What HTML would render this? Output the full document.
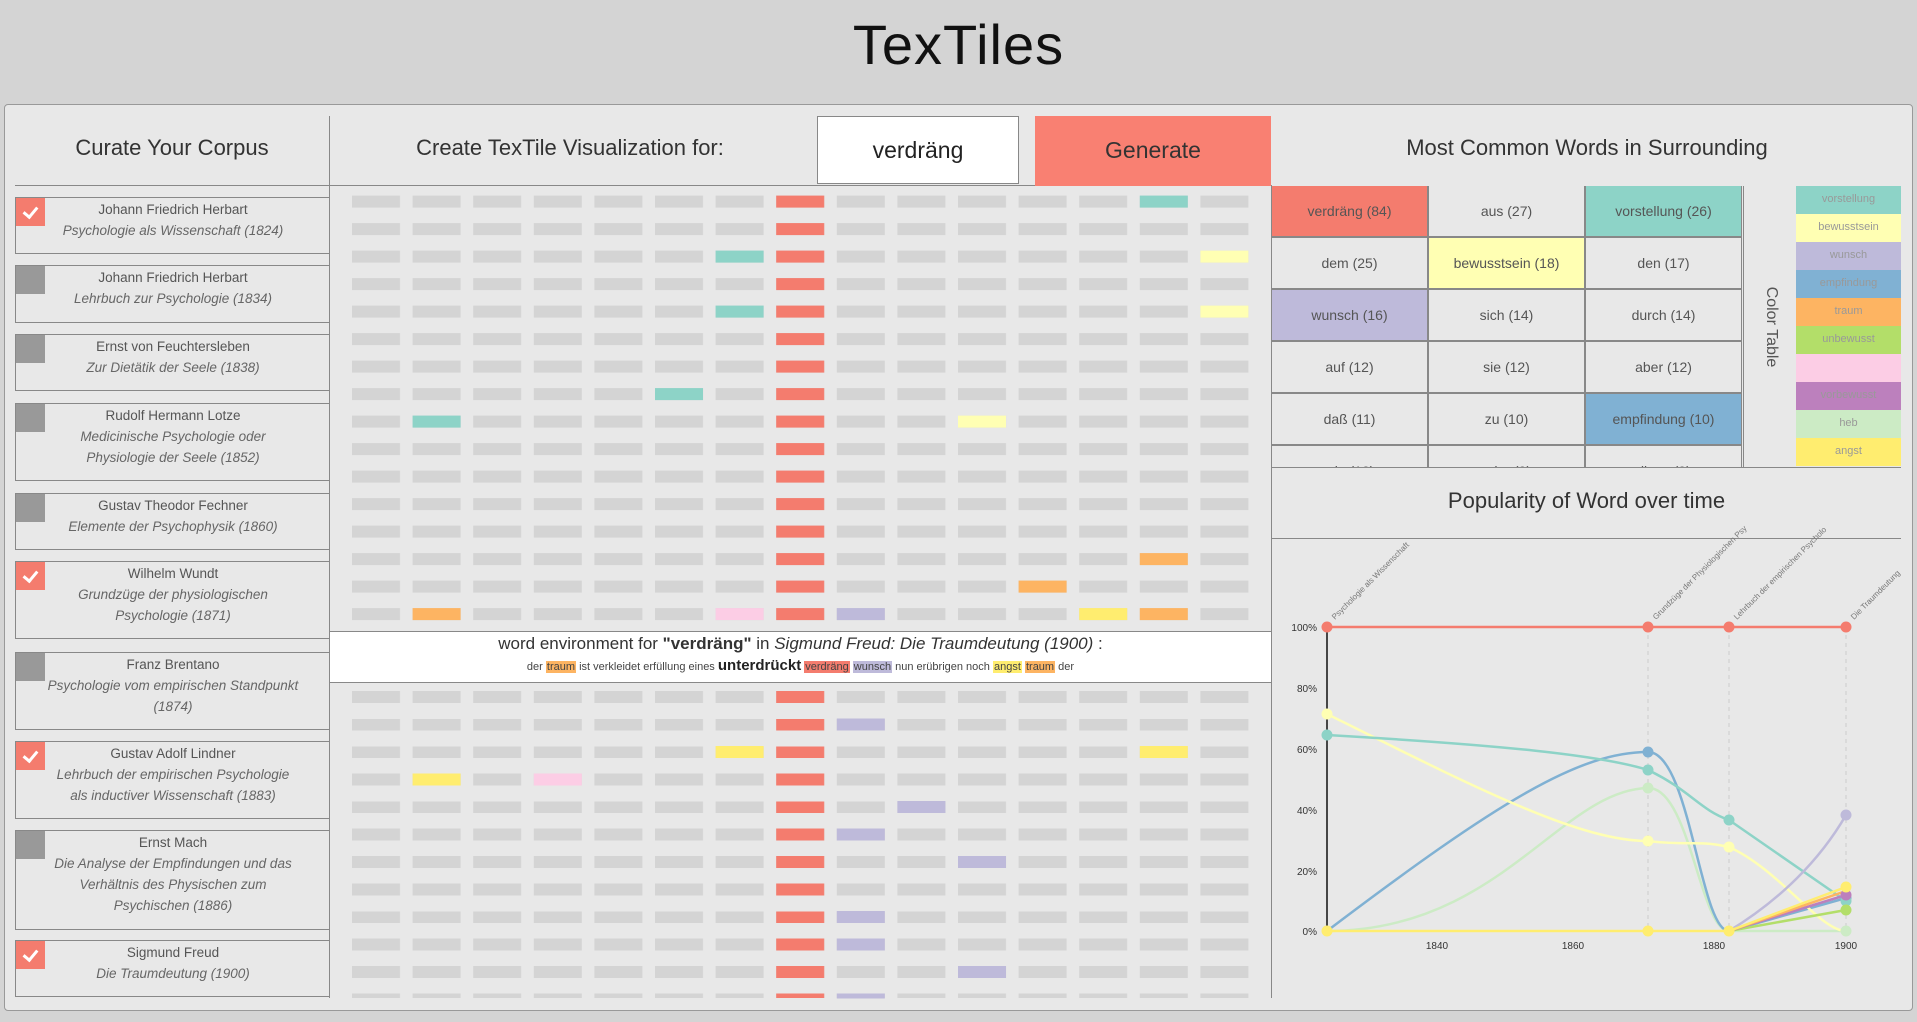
<!DOCTYPE html>
<html><head><meta charset="utf-8"><style>
*{margin:0;padding:0;box-sizing:border-box}
body{width:1917px;height:1022px;background:#d4d4d4;font-family:"Liberation Sans",sans-serif;color:#333;position:relative;overflow:hidden}
.a{position:absolute}
#panel{left:4px;top:104px;width:1909px;height:907px;background:#e8e8e8;border:1px solid #999;border-radius:4px}
.h{position:absolute;font-size:22px;color:#333;text-align:center;white-space:nowrap}
.item{position:absolute;left:15px;width:315px;border:1px solid #888;border-right:none;text-align:center;font-size:13.5px;line-height:21px;color:#555;padding-top:1px}
.item i{color:#666}
.cb{position:absolute;left:0;top:0;width:29px;height:28px;background:#999}
.cb.on{background:#f47c6e}
.cb.on:after{content:"";position:absolute;left:10px;top:6px;width:6px;height:11px;border:solid #fff;border-width:0 3px 3px 0;transform:rotate(40deg)}
.wt{position:absolute;width:157px;height:52px;border:1px solid #888;margin:-1px 0 0 -1px;text-align:center;line-height:50px;font-size:14px;color:#555}
.lg{position:absolute;left:1796px;width:105px;height:28px;text-align:center;line-height:26px;font-size:11px;color:#999}
.hl{padding:0 1px}
</style></head><body>
<div class="a" style="left:0;top:12px;width:1917px;text-align:center;font-size:56px;color:#111;letter-spacing:1px">TexTiles</div>
<div class="a" id="panel"></div>

<div class="a" style="left:329px;top:116px;width:1px;height:882px;background:#888"></div>
<div class="a" style="left:15px;top:185px;width:1256px;height:1px;background:#888"></div>
<div class="a" style="left:1271px;top:185px;width:1px;height:813px;background:#888"></div>

<div class="h" style="left:15px;top:135px;width:314px">Curate Your Corpus</div>
<div class="h" style="left:330px;top:135px;width:480px">Create TexTile Visualization for:</div>
<div class="a" style="left:817px;top:116px;width:202px;height:68px;background:#fff;border:1px solid #888;text-align:center;line-height:66px;font-size:23px;color:#222">verdräng</div>
<div class="a" style="left:1035px;top:116px;width:236px;height:70px;background:#f98072;text-align:center;line-height:68px;font-size:23px;color:#333">Generate</div>
<div class="h" style="left:1272px;top:135px;width:630px">Most Common Words in Surrounding</div>

<div class="item" style="top:197px;height:57px"><div class="cb on"></div>Johann Friedrich Herbart<br><i>Psychologie als Wissenschaft (1824)</i></div>
<div class="item" style="top:265px;height:58px"><div class="cb"></div>Johann Friedrich Herbart<br><i>Lehrbuch zur Psychologie (1834)</i></div>
<div class="item" style="top:334px;height:57px"><div class="cb"></div>Ernst von Feuchtersleben<br><i>Zur Dietätik der Seele (1838)</i></div>
<div class="item" style="top:403px;height:78px"><div class="cb"></div>Rudolf Hermann Lotze<br><i>Medicinische Psychologie oder<br>Physiologie der Seele (1852)</i></div>
<div class="item" style="top:493px;height:57px"><div class="cb"></div>Gustav Theodor Fechner<br><i>Elemente der Psychophysik (1860)</i></div>
<div class="item" style="top:561px;height:78px"><div class="cb on"></div>Wilhelm Wundt<br><i>Grundzüge der physiologischen<br>Psychologie (1871)</i></div>
<div class="item" style="top:652px;height:78px"><div class="cb"></div>Franz Brentano<br><i>Psychologie vom empirischen Standpunkt<br>(1874)</i></div>
<div class="item" style="top:741px;height:78px"><div class="cb on"></div>Gustav Adolf Lindner<br><i>Lehrbuch der empirischen Psychologie<br>als inductiver Wissenschaft (1883)</i></div>
<div class="item" style="top:830px;height:100px"><div class="cb"></div>Ernst Mach<br><i>Die Analyse der Empfindungen und das<br>Verhältnis des Physischen zum<br>Psychischen (1886)</i></div>
<div class="item" style="top:940px;height:57px"><div class="cb on"></div>Sigmund Freud<br><i>Die Traumdeutung (1900)</i></div>

<svg class="a" style="left:0;top:0" width="1917" height="1022">
<defs>
<pattern id="gt" x="352" y="195.6" width="60.6" height="27.5" patternUnits="userSpaceOnUse"><rect width="48" height="12" fill="#d4d4d4"/></pattern>
<pattern id="gb" x="352" y="691" width="60.6" height="27.5" patternUnits="userSpaceOnUse"><rect width="48" height="12" fill="#d4d4d4"/></pattern>
<pattern id="rt" x="776.2" y="195.6" width="60.6" height="27.5" patternUnits="userSpaceOnUse"><rect width="48" height="12" fill="#f47c6e"/></pattern>
<pattern id="rb" x="776.2" y="691" width="60.6" height="27.5" patternUnits="userSpaceOnUse"><rect width="48" height="12" fill="#f47c6e"/></pattern>
</defs>
<rect x="352" y="195" width="898" height="430" fill="url(#gt)"/>
<rect x="352" y="691" width="898" height="307" fill="url(#gb)"/>
<rect x="776" y="195" width="49" height="430" fill="url(#rt)"/>
<rect x="776" y="691" width="49" height="307" fill="url(#rb)"/>
<g>
<rect x="1139.8" y="195.6" width="48" height="12" fill="#8dd3c7"/>
<rect x="715.6" y="250.6" width="48" height="12" fill="#8dd3c7"/>
<rect x="1200.4" y="250.6" width="48" height="12" fill="#ffffb3"/>
<rect x="715.6" y="305.6" width="48" height="12" fill="#8dd3c7"/>
<rect x="1200.4" y="305.6" width="48" height="12" fill="#ffffb3"/>
<rect x="655" y="388.1" width="48" height="12" fill="#8dd3c7"/>
<rect x="412.6" y="415.6" width="48" height="12" fill="#8dd3c7"/>
<rect x="958" y="415.6" width="48" height="12" fill="#ffffb3"/>
<rect x="1139.8" y="553.1" width="48" height="12" fill="#fdb462"/>
<rect x="1018.6" y="580.6" width="48" height="12" fill="#fdb462"/>
<rect x="412.6" y="608.1" width="48" height="12" fill="#fdb462"/>
<rect x="715.6" y="608.1" width="48" height="12" fill="#fccde5"/>
<rect x="836.8" y="608.1" width="48" height="12" fill="#bebada"/>
<rect x="1079.2" y="608.1" width="48" height="12" fill="#ffed6f"/>
<rect x="1139.8" y="608.1" width="48" height="12" fill="#fdb462"/>
<rect x="836.8" y="718.5" width="48" height="12" fill="#bebada"/>
<rect x="715.6" y="746" width="48" height="12" fill="#ffed6f"/>
<rect x="1139.8" y="746" width="48" height="12" fill="#ffed6f"/>
<rect x="412.6" y="773.5" width="48" height="12" fill="#ffed6f"/>
<rect x="533.8" y="773.5" width="48" height="12" fill="#fccde5"/>
<rect x="897.4" y="801" width="48" height="12" fill="#bebada"/>
<rect x="836.8" y="828.5" width="48" height="12" fill="#bebada"/>
<rect x="958" y="856" width="48" height="12" fill="#bebada"/>
<rect x="836.8" y="911" width="48" height="12" fill="#bebada"/>
<rect x="836.8" y="938.5" width="48" height="12" fill="#bebada"/>
<rect x="958" y="966" width="48" height="12" fill="#bebada"/>
<rect x="836.8" y="993.5" width="48" height="5" fill="#bebada"/>
</g>
</svg>

<div class="a" style="left:330px;top:631px;width:941px;height:52px;background:#fff;border-top:1px solid #888;border-bottom:1px solid #888;text-align:center">
<div style="font-size:17px;color:#333;margin-top:2px">word environment for <b>"verdräng"</b> in <i>Sigmund Freud: Die Traumdeutung (1900)</i> :</div>
<div style="font-size:11px;color:#444;margin-top:3px">der <span class="hl" style="background:#fdb462">traum</span> ist verkleidet erfüllung eines <b style="font-size:15px;color:#222">unterdrückt</b> <span class="hl" style="background:#f47c6e">verdräng</span> <span class="hl" style="background:#bebada">wunsch</span> nun erübrigen noch <span class="hl" style="background:#ffed6f">angst</span> <span class="hl" style="background:#fdb462">traum</span> der</div>
</div>

<div class="a" style="left:1272px;top:186px;width:472px;height:282px;overflow:hidden">
<div class="wt" style="left:0;top:0;background:#f47c6e">verdräng (84)</div>
<div class="wt" style="left:157px;top:0">aus (27)</div>
<div class="wt" style="left:314px;top:0;background:#8dd3c7">vorstellung (26)</div>
<div class="wt" style="left:0;top:52px">dem (25)</div>
<div class="wt" style="left:157px;top:52px;background:#ffffb3">bewusstsein (18)</div>
<div class="wt" style="left:314px;top:52px">den (17)</div>
<div class="wt" style="left:0;top:104px;background:#bebada">wunsch (16)</div>
<div class="wt" style="left:157px;top:104px">sich (14)</div>
<div class="wt" style="left:314px;top:104px">durch (14)</div>
<div class="wt" style="left:0;top:156px">auf (12)</div>
<div class="wt" style="left:157px;top:156px">sie (12)</div>
<div class="wt" style="left:314px;top:156px">aber (12)</div>
<div class="wt" style="left:0;top:208px">daß (11)</div>
<div class="wt" style="left:157px;top:208px">zu (10)</div>
<div class="wt" style="left:314px;top:208px;background:#80b1d3">empfindung (10)</div>
<div class="wt" style="left:0;top:260px">wie (10)</div>
<div class="wt" style="left:157px;top:260px">oder (9)</div>
<div class="wt" style="left:314px;top:260px">diese (9)</div>
</div>
<div class="a" style="left:1743px;top:186px;width:1px;height:282px;background:#888"></div>
<div class="a" style="left:1721px;top:318px;width:100px;text-align:center;font-size:16px;color:#555;transform:rotate(90deg)">Color Table</div>
<div class="lg" style="top:186px;background:#8dd3c7">vorstellung</div>
<div class="lg" style="top:214px;background:#ffffb3">bewusstsein</div>
<div class="lg" style="top:242px;background:#bebada">wunsch</div>
<div class="lg" style="top:270px;background:#80b1d3">empfindung</div>
<div class="lg" style="top:298px;background:#fdb462">traum</div>
<div class="lg" style="top:326px;background:#b3de69">unbewusst</div>
<div class="lg" style="top:354px;background:#fccde5"></div>
<div class="lg" style="top:382px;background:#bc80bd">vorbewusst</div>
<div class="lg" style="top:410px;background:#ccebc5">heb</div>
<div class="lg" style="top:438px;background:#ffed6f">angst</div>
<div class="a" style="left:1272px;top:467px;width:629px;height:1px;background:#888"></div>
<div class="h" style="left:1272px;top:488px;width:629px;font-size:22px">Popularity of Word over time</div>
<div class="a" style="left:1272px;top:538px;width:629px;height:1px;background:#888"></div>

<svg class="a" style="left:0;top:0" width="1917" height="1022" font-family="Liberation Sans, sans-serif">
<g stroke="#ccc" stroke-dasharray="4,4" stroke-width="1">
<line x1="1648" y1="627" x2="1648" y2="931"/><line x1="1729" y1="627" x2="1729" y2="931"/><line x1="1846" y1="627" x2="1846" y2="931"/>
</g>
<line x1="1327" y1="627" x2="1327" y2="935" stroke="#111" stroke-width="1.5"/>
<line x1="1327" y1="931" x2="1846" y2="931" stroke="#111" stroke-width="1.2"/>
<g font-size="10" fill="#333" text-anchor="end">
<text x="1317" y="631">100%</text><text x="1317" y="692">80%</text><text x="1317" y="753">60%</text><text x="1317" y="814">40%</text><text x="1317" y="875">20%</text><text x="1317" y="935">0%</text>
</g>
<g font-size="10" fill="#333" text-anchor="middle">
<text x="1437" y="949">1840</text><text x="1573" y="949">1860</text><text x="1714" y="949">1880</text><text x="1846" y="949">1900</text>
</g>
<g font-size="8" fill="#777">
<text transform="translate(1335,620) rotate(-45)">Psychologie als Wissenschaft</text>
<text transform="translate(1656,620) rotate(-45)">Grundzüge der Physiologischen Psy</text>
<text transform="translate(1737,620) rotate(-45)">Lehrbuch der empirischen Psycholo</text>
<text transform="translate(1854,620) rotate(-45)">Die Traumdeutung</text>
</g>
<g fill="none" stroke-width="2.5" stroke-linejoin="round">
<path d="M1327,931 C1500,931 1560,790 1648,788 C1690,787 1700,931 1729,931 L1846,931" stroke="#ccebc5"/>
<path d="M1327,931 C1500,800 1580,752 1648,752 C1690,752 1700,931 1729,931 L1846,898" stroke="#80b1d3"/>
<path d="M1327,714 C1480,790 1580,841 1648,841 C1690,846 1700,840 1729,847 C1780,870 1820,931 1846,931" stroke="#ffffb3"/>
<path d="M1327,735 C1500,745 1600,755 1648,770 C1690,790 1700,810 1729,820 L1846,901" stroke="#8dd3c7"/>
<path d="M1729,931 C1780,900 1820,860 1846,815" stroke="#bebada"/>
<path d="M1729,931 L1846,910" stroke="#b3de69"/>
<path d="M1729,931 L1846,895" stroke="#bc80bd"/>
<path d="M1729,931 L1846,891" stroke="#fdb462"/>
<path d="M1327,931 L1729,931 L1846,887" stroke="#ffed6f"/>
<path d="M1327,627 L1846,627" stroke="#f47c6e"/>
</g>
<g>
<circle cx="1327" cy="627" r="5.5" fill="#f47c6e"/><circle cx="1648" cy="627" r="5.5" fill="#f47c6e"/><circle cx="1729" cy="627" r="5.5" fill="#f47c6e"/><circle cx="1846" cy="627" r="5.5" fill="#f47c6e"/>
<circle cx="1327" cy="714" r="5.5" fill="#ffffb3"/><circle cx="1327" cy="735" r="5.5" fill="#8dd3c7"/>
<circle cx="1648" cy="752" r="5.5" fill="#80b1d3"/><circle cx="1648" cy="770" r="5.5" fill="#8dd3c7"/><circle cx="1648" cy="788" r="5.5" fill="#ccebc5"/><circle cx="1648" cy="841" r="5.5" fill="#ffffb3"/>
<circle cx="1729" cy="820" r="5.5" fill="#8dd3c7"/><circle cx="1729" cy="847" r="5.5" fill="#ffffb3"/>
<circle cx="1846" cy="815" r="5.5" fill="#bebada"/><circle cx="1846" cy="898" r="5.5" fill="#80b1d3"/><circle cx="1846" cy="901" r="5.5" fill="#8dd3c7"/><circle cx="1846" cy="895" r="5.5" fill="#bc80bd"/><circle cx="1846" cy="910" r="5.5" fill="#b3de69"/><circle cx="1846" cy="887" r="5.5" fill="#ffed6f"/><circle cx="1846" cy="931" r="5.5" fill="#ccebc5"/>
<circle cx="1327" cy="931" r="5.5" fill="#ffed6f"/><circle cx="1648" cy="931" r="5.5" fill="#ffed6f"/><circle cx="1729" cy="931" r="5.5" fill="#ffed6f"/>
</g>
</svg>
</body></html>
